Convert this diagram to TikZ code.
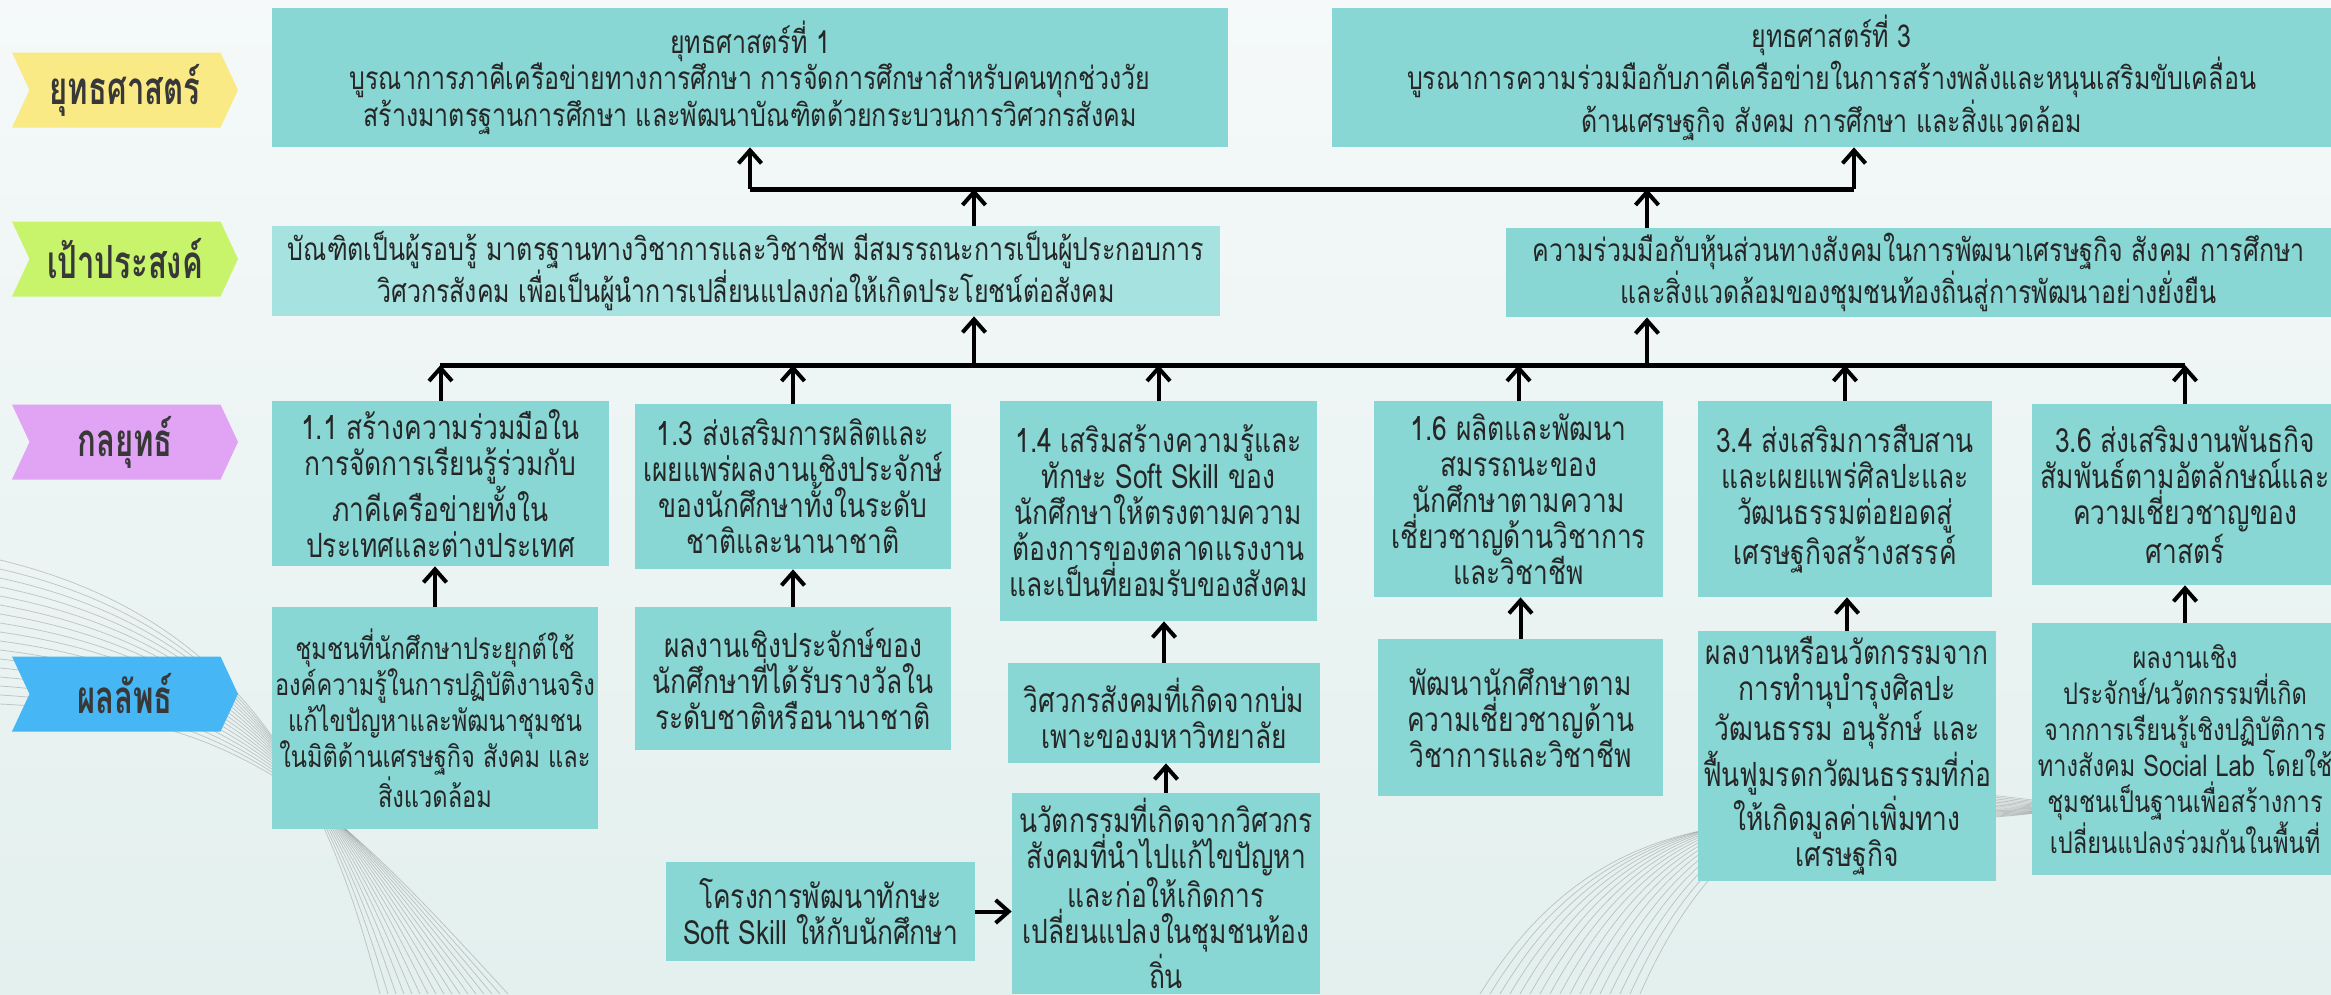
\documentclass[tikz,border=0pt]{standalone}
\usepackage{fontspec}
\setmainfont[Script=Thai,FakeStretch=0.79,BoldFeatures={FakeStretch=0.68}]{Loma}
\usepackage{xcolor}
\usetikzlibrary{arrows.meta,shapes.symbols}

\definecolor{boxteal}{HTML}{89D7D4}
\definecolor{goallight}{HTML}{A6E2DF}
\definecolor{tagyellow}{HTML}{F9EA86}
\definecolor{taggreen}{HTML}{C8F46C}
\definecolor{tagpink}{HTML}{E1A3F4}
\definecolor{tagblue}{HTML}{47B6F4}
\definecolor{bgtop}{HTML}{F5F9F9}
\definecolor{bgbottom}{HTML}{E3F0EE}

\begin{document}
\begin{tikzpicture}[
		x=0.2mm, y=-0.2mm,
		>={Straight Barb[length=2.6mm,width=4.6mm]},
		every node/.style = {font=\fontsize{19pt}{20.5pt}\selectfont, text=black!85},
		box/.style = {fill=boxteal, align=center, inner sep=1mm},
		headbox/.style = {box, font=\fontsize{18pt}{19.5pt}\selectfont},
		widebox/.style = {box, inner xsep=0.3mm, font=\fontsize{17pt}{20.5pt}\selectfont},
		tag/.style = {signal, signal from=west, signal to=east, signal pointer angle=130,
			minimum width=45.2mm, minimum height=15mm, inner sep=0pt,
			font=\fontsize{26pt}{28pt}\selectfont\bfseries, text=black!78},
		arr/.style = {->, line width=0.8mm},
		bus/.style = {line width=1mm},
		swirl/.style = {draw=black!45, line width=0.15mm, opacity=0.45}
		]
		
		% Background ----------------------------------------------------
		\shade[top color=bgtop, bottom color=bgbottom] (0,0) rectangle (2331,994);
		\useasboundingbox (0,0) rectangle (2331,994);
		\foreach \i in {0,...,16}{
			\draw[swirl] (0,560+\i*9) .. controls (250,620+\i*6) and (330,800) .. (380+\i*8,994);
			\draw[swirl] (1480+\i*10,994) .. controls (1700+\i*6,640) and (2050,1000-\i*8) .. (2331,640+\i*10);
		}
		
		% Row labels ----------------------------------------------------
		\node[tag, fill=tagyellow] (lstrat) at (125,90) {ยุทธศาสตร์};
		\node[tag, fill=taggreen]  (lgoal)  at (125,259) {เป้าประสงค์};
		\node[tag, fill=tagpink]   (ltact)  at (125,442) {กลยุทธ์};
		\node[tag, fill=tagblue]   (lout)   at (125,694) {ผลลัพธ์};
		
		% Strategies ----------------------------------------------------
		\node[headbox, minimum width=191.2mm, minimum height=27.8mm] (s1) at (750,77.5)
		{ยุทธศาสตร์ที่ 1\\บูรณาการภาคีเครือข่ายทางการศึกษา การจัดการศึกษาสำหรับคนทุกช่วงวัย\\สร้างมาตรฐานการศึกษา และพัฒนาบัณฑิตด้วยกระบวนการวิศวกรสังคม};
		\node[headbox, minimum width=199.8mm, minimum height=27.8mm] (s3) at (1831.5,77.5)
		{ยุทธศาสตร์ที่ 3\\บูรณาการความร่วมมือกับภาคีเครือข่ายในการสร้างพลังและหนุนเสริมขับเคลื่อน\\ด้านเศรษฐกิจ สังคม การศึกษา และสิ่งแวดล้อม};
		
		% Goals ---------------------------------------------------------
		\node[headbox, fill=goallight, minimum width=189.6mm, minimum height=17.6mm] (g1) at (746,271)
		{บัณฑิตเป็นผู้รอบรู้ มาตรฐานทางวิชาการและวิชาชีพ มีสมรรถนะการเป็นผู้ประกอบการ\\วิศวกรสังคม เพื่อเป็นผู้นำการเปลี่ยนแปลงก่อให้เกิดประโยชน์ต่อสังคม};
		\node[headbox, minimum width=165mm, minimum height=17.8mm] (g2) at (1918.5,272.5)
		{ความร่วมมือกับหุ้นส่วนทางสังคมในการพัฒนาเศรษฐกิจ สังคม การศึกษา\\และสิ่งแวดล้อมของชุมชนท้องถิ่นสู่การพัฒนาอย่างยั่งยืน};
		
		% Tactics -------------------------------------------------------
		\node[box, minimum width=67.4mm, minimum height=33mm] (t11) at (440.5,483.5)
		{1.1 สร้างความร่วมมือใน\\การจัดการเรียนรู้ร่วมกับ\\ภาคีเครือข่ายทั้งใน\\ประเทศและต่างประเทศ};
		\node[box, minimum width=63.2mm, minimum height=33mm] (t13) at (793,486.5)
		{1.3 ส่งเสริมการผลิตและ\\เผยแพร่ผลงานเชิงประจักษ์\\ของนักศึกษาทั้งในระดับ\\ชาติและนานาชาติ};
		\node[box, minimum width=63.4mm, minimum height=44mm] (t14) at (1158.5,511)
		{1.4 เสริมสร้างความรู้และ\\ทักษะ Soft Skill ของ\\นักศึกษาให้ตรงตามความ\\ต้องการของตลาดแรงงาน\\และเป็นที่ยอมรับของสังคม};
		\node[box, minimum width=57.8mm, minimum height=39.2mm] (t16) at (1518.5,499)
		{1.6 ผลิตและพัฒนา\\สมรรถนะของ\\นักศึกษาตามความ\\เชี่ยวชาญด้านวิชาการ\\และวิชาชีพ};
		\node[box, minimum width=58.8mm, minimum height=39.2mm] (t34) at (1845,499)
		{3.4 ส่งเสริมการสืบสาน\\และเผยแพร่ศิลปะและ\\วัฒนธรรมต่อยอดสู่\\เศรษฐกิจสร้างสรรค์};
		\node[box, minimum width=61.2mm, minimum height=36.2mm] (t36) at (2185,494.5)
		{3.6 ส่งเสริมงานพันธกิจ\\สัมพันธ์ตามอัตลักษณ์และ\\ความเชี่ยวชาญของ\\ศาสตร์};
		
		% Outcomes ------------------------------------------------------
		\node[widebox, minimum width=65.2mm, minimum height=44.4mm] (o11) at (435,718)
		{ชุมชนที่นักศึกษาประยุกต์ใช้\\องค์ความรู้ในการปฏิบัติงานจริง\\แก้ไขปัญหาและพัฒนาชุมชน\\ในมิติด้านเศรษฐกิจ สังคม และ\\สิ่งแวดล้อม};
		\node[box, minimum width=63.2mm, minimum height=28.6mm] (o13) at (793,678.5)
		{ผลงานเชิงประจักษ์ของ\\นักศึกษาที่ได้รับรางวัลใน\\ระดับชาติหรือนานาชาติ};
		\node[box, minimum width=62.4mm, minimum height=20mm] (o14) at (1164,713)
		{วิศวกรสังคมที่เกิดจากบ่ม\\เพาะของมหาวิทยาลัย};
		\node[box, minimum width=61.6mm, minimum height=38.2mm] (inno) at (1166,893.5)
		{นวัตกรรมที่เกิดจากวิศวกร\\สังคมที่นำไปแก้ไขปัญหา\\และก่อให้เกิดการ\\เปลี่ยนแปลงในชุมชนท้อง\\ถิ่น};
		\node[box, minimum width=61.8mm, minimum height=19.8mm] (soft) at (820.5,911.5)
		{โครงการพัฒนาทักษะ\\Soft Skill ให้กับนักศึกษา};
		\node[box, minimum width=57mm, minimum height=31.4mm] (o16) at (1520.5,717.5)
		{พัฒนานักศึกษาตาม\\ความเชี่ยวชาญด้าน\\วิชาการและวิชาชีพ};
		\node[box, minimum width=58mm, minimum height=47.6mm] (o34) at (1847,756)
		{ผลงานหรือนวัตกรรมจาก\\การทำนุบำรุงศิลปะ\\วัฒนธรรม อนุรักษ์ และ\\ฟื้นฟูมรดกวัฒนธรรมที่ก่อ\\ให้เกิดมูลค่าเพิ่มทาง\\เศรษฐกิจ};
		\node[widebox, minimum width=61.2mm, minimum height=50.4mm] (o36) at (2185,749)
		{ผลงานเชิง\\ประจักษ์/นวัตกรรมที่เกิด\\จากการเรียนรู้เชิงปฏิบัติการ\\ทางสังคม Social Lab โดยใช้\\ชุมชนเป็นฐานเพื่อสร้างการ\\เปลี่ยนแปลงร่วมกันในพื้นที่};
		
		% Buses ---------------------------------------------------------
		\coordinate (upL) at (750,189);
		\coordinate (upR) at (1854,189);
		\coordinate (up1) at (974,189);
		\coordinate (up3) at (1647,189);
		\coordinate (loL) at (440,365);
		\coordinate (loR) at (2185,365);
		\coordinate (lo1) at (974,365);
		\coordinate (lo3) at (1647,365);
		
		% Arrows --------------------------------------------------------
		\draw[bus] (upL) -- (upR);
		\draw[arr] (upL) -- (upL |- s1.south);
		\draw[arr] (upR) -- (upR |- s3.south);
		\draw[arr] (up1 |- g1.north) -- (up1);
		\draw[arr] (up3 |- g2.north) -- (up3);
		\draw[bus] (loL) -- (loR);
		\draw[arr] (lo1) -- (lo1 |- g1.south);
		\draw[arr] (lo3) -- (lo3 |- g2.south);
		\foreach \t in {t11,t13,t14,t16,t34,t36}
		\draw[arr] (\t.north) -- (\t.north |- loL);
		\draw[arr] (o11.north) -- (o11.north |- t11.south);
		\draw[arr] (o13.north) -- (o13.north |- t13.south);
		\draw[arr] (o14.north) -- (o14.north |- t14.south);
		\draw[arr] (inno.north) -- (inno.north |- o14.south);
		\draw[arr] (soft.east) -- (soft.east -| inno.west);
		\draw[arr] (o16.north) -- (o16.north |- t16.south);
		\draw[arr] (o34.north) -- (o34.north |- t34.south);
		\draw[arr] (o36.north) -- (o36.north |- t36.south);
	\end{tikzpicture}
\end{document}
